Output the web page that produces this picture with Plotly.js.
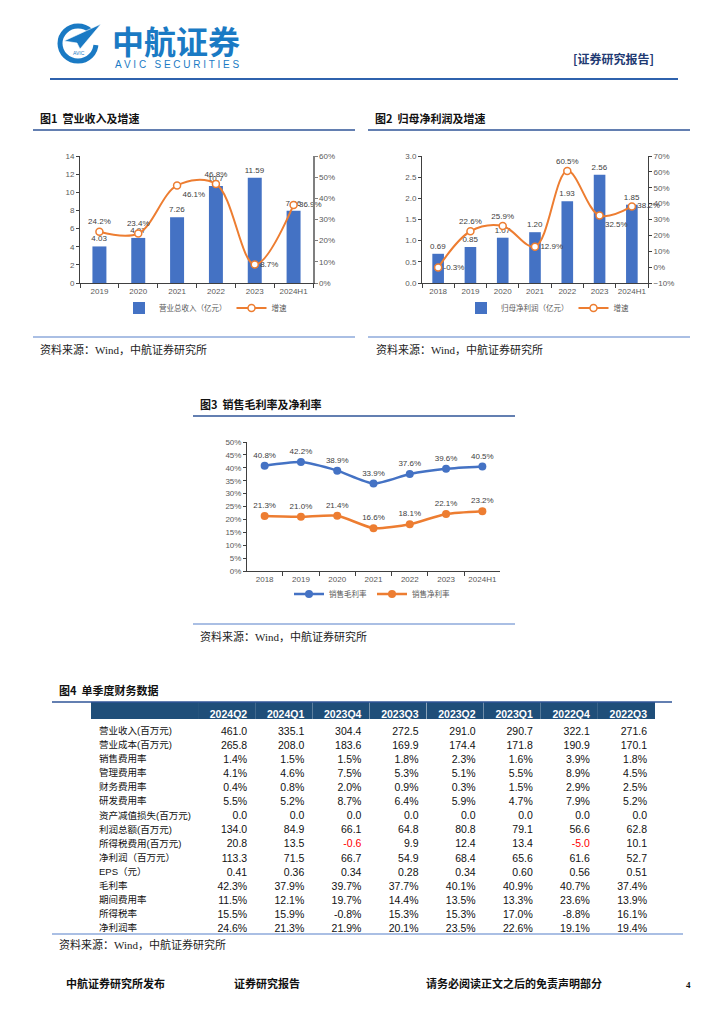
<!DOCTYPE html>
<html>
<head>
<meta charset="utf-8">
<script src="https://cdn.plot.ly/plotly-3.0.1.min.js"></script>
<style>html,body{margin:0;padding:0;background:#fff;}#page{width:724px;height:1024px;}</style>
</head>
<body>
<div id="page"></div>
<script>
// ---------- data ----------
const years1 = ['2019','2020','2021','2022','2023','2024H1'];
const revenue = [4.03, 4.97, 7.26, 10.7, 11.59, 7.96];
const revenueGrowth = [24.2, 23.4, 46.1, 46.8, 8.7, 36.9];

const years2 = ['2018','2019','2020','2021','2022','2023','2024H1'];
const netProfit = [0.69, 0.85, 1.07, 1.20, 1.93, 2.56, 1.85];
const netProfitGrowth = [-0.3, 22.6, 25.9, 12.9, 60.5, 32.5, 38.2];

const years3 = ['2018','2019','2020','2021','2022','2023','2024H1'];
const grossMargin = [40.8, 42.2, 38.9, 33.9, 37.6, 39.6, 40.5];
const netMargin = [21.3, 21.0, 21.4, 16.6, 18.1, 22.1, 23.2];

const quarters = ['2024Q2','2024Q1','2023Q4','2023Q3','2023Q2','2023Q1','2022Q4','2022Q3'];
const rowLabels = ['营业收入(百万元)','营业成本(百万元)','销售费用率','管理费用率','财务费用率','研发费用率','资产减值损失(百万元)','利润总额(百万元)','所得税费用(百万元)','净利润（百万元）','EPS（元）','毛利率','期间费用率','所得税率','净利润率'];
const qRevenue = [461.0, 335.1, 304.4, 272.5, 291.0, 290.7, 322.1, 271.6];
const qCost = [265.8, 208.0, 183.6, 169.9, 174.4, 171.8, 190.9, 170.1];
const qSellRate = [1.4, 1.5, 1.5, 1.8, 2.3, 1.6, 3.9, 1.8];
const qMgmtRate = [4.1, 4.6, 7.5, 5.3, 5.1, 5.5, 8.9, 4.5];
const qFinRate = [0.4, 0.8, 2.0, 0.9, 0.3, 1.5, 2.9, 2.5];
const qRdRate = [5.5, 5.2, 8.7, 6.4, 5.9, 4.7, 7.9, 5.2];
const qImpair = [0.0, 0.0, 0.0, 0.0, 0.0, 0.0, 0.0, 0.0];
const qTotalProfit = [134.0, 84.9, 66.1, 64.8, 80.8, 79.1, 56.6, 62.8];
const qTax = [20.8, 13.5, -0.6, 9.9, 12.4, 13.4, -5.0, 10.1];
const qNetProfit = [113.3, 71.5, 66.7, 54.9, 68.4, 65.6, 61.6, 52.7];
const qEps = [0.41, 0.36, 0.34, 0.28, 0.34, 0.60, 0.56, 0.51];
const qGrossMargin = [42.3, 37.9, 39.7, 37.7, 40.1, 40.9, 40.7, 37.4];
const qPeriodExp = [11.5, 12.1, 19.7, 14.4, 13.5, 13.3, 23.6, 13.9];
const qTaxRate = [15.5, 15.9, -0.8, 15.3, 15.3, 17.0, -8.8, 16.1];
const qNetMargin = [24.6, 21.3, 21.9, 20.1, 23.5, 22.6, 19.1, 19.4];

// ---------- helpers ----------
const W = 724, H = 1024;
const px = x => x / W;
const py = y => 1 - y / H;
const BLUE = '#4472c4', ORANGE = '#ed7d31';
const TICKF = {size: 8, color: '#595959', family: 'Liberation Sans, Arial, Noto Sans CJK SC'};
const CJK = 'Noto Sans CJK SC';

// table build
const tableRows = [
  [qRevenue, 1, ''], [qCost, 1, ''], [qSellRate, 1, '%'], [qMgmtRate, 1, '%'], [qFinRate, 1, '%'],
  [qRdRate, 1, '%'], [qImpair, 1, ''], [qTotalProfit, 1, ''], [qTax, 1, ''], [qNetProfit, 1, ''],
  [qEps, 2, ''], [qGrossMargin, 1, '%'], [qPeriodExp, 1, '%'], [qTaxRate, 1, '%'], [qNetMargin, 1, '%']
];
const redRow = 8;
const cellCols = [rowLabels];
const colorCols = [rowLabels.map(() => '#111')];
quarters.forEach((q, j) => {
  cellCols.push(tableRows.map(r => r[0][j].toFixed(r[1]) + r[2]));
  colorCols.push(tableRows.map((r, i) => (i === redRow && r[0][j] < 0) ? '#ff0000' : '#111'));
});

// ---------- traces ----------
const traces = [
  {type: 'bar', x: years1, y: revenue, xaxis: 'x', yaxis: 'y', name: '营业总收入（亿元）', legend: 'legend',
   marker: {color: BLUE}, texttemplate: '%{y}', textposition: 'outside', cliponaxis: false, constraintext: 'none',
   textfont: {size: 8, color: '#404040'}},
  {type: 'scatter', x: years1, y: revenueGrowth, xaxis: 'x', yaxis: 'y2', name: '增速', legend: 'legend',
   mode: 'lines+markers+text', line: {color: ORANGE, width: 2, shape: 'spline', smoothing: 1},
   marker: {symbol: 'circle', size: 7, color: '#fff', line: {color: ORANGE, width: 1.5}},
   texttemplate: '%{y:.1f}%', cliponaxis: false,
   textposition: ['top center','top center','bottom right','top center','middle right','middle right'],
   textfont: {size: 8, color: '#404040'}},

  {type: 'bar', x: years2, y: netProfit, xaxis: 'x2', yaxis: 'y3', name: '归母净利润（亿元）', legend: 'legend2',
   marker: {color: BLUE}, texttemplate: '%{y:.2f}', textposition: 'outside', cliponaxis: false, constraintext: 'none',
   textfont: {size: 8, color: '#404040'}},
  {type: 'scatter', x: years2, y: netProfitGrowth, xaxis: 'x2', yaxis: 'y4', name: '增速', legend: 'legend2',
   mode: 'lines+markers+text', line: {color: ORANGE, width: 2, shape: 'spline', smoothing: 1},
   marker: {symbol: 'circle', size: 7, color: '#fff', line: {color: ORANGE, width: 1.5}},
   texttemplate: '%{y:.1f}%', cliponaxis: false,
   textposition: ['middle right','top center','top center','middle right','top center','bottom right','middle right'],
   textfont: {size: 8, color: '#404040'}},

  {type: 'scatter', x: years3, y: grossMargin, xaxis: 'x3', yaxis: 'y5', name: '销售毛利率', legend: 'legend3',
   mode: 'lines+markers+text', line: {color: BLUE, width: 2.5, shape: 'spline', smoothing: 0.6},
   marker: {symbol: 'circle', size: 8, color: BLUE}, texttemplate: '%{y:.1f}%', textposition: 'top center',
   cliponaxis: false, textfont: {size: 8, color: '#404040'}},
  {type: 'scatter', x: years3, y: netMargin, xaxis: 'x3', yaxis: 'y5', name: '销售净利率', legend: 'legend3',
   mode: 'lines+markers+text', line: {color: ORANGE, width: 2.5, shape: 'spline', smoothing: 0.6},
   marker: {symbol: 'circle', size: 8, color: ORANGE}, texttemplate: '%{y:.1f}%', textposition: 'top center',
   cliponaxis: false, textfont: {size: 8, color: '#404040'}},

  {type: 'table', domain: {x: [px(91), px(655)], y: [py(950), py(702)]},
   columnwidth: [107].concat(quarters.map(() => 57.1)),
   header: {values: [''].concat(quarters), align: ['left'].concat(quarters.map(() => 'right')),
            fill: {color: '#1f4e79'}, line: {width: 0, color: '#1f4e79'}, height: 17,
            font: {color: '#fff', size: 10.5, family: 'Liberation Sans, Arial', weight: 'bold'}},
   cells: {values: cellCols, align: ['left'].concat(quarters.map(() => 'right')),
           fill: {color: 'rgba(0,0,0,0)'}, line: {width: 0, color: 'rgba(0,0,0,0)'}, height: 14.07,
           font: {color: colorCols, size: [9.5].concat(quarters.map(() => 10.5)),
                  family: 'Liberation Sans, Arial, Noto Sans CJK SC'}}}
];

// ---------- axes ----------
const xCommon = {type: 'category', showline: true, linecolor: '#404040', linewidth: 1, ticks: 'outside',
  tickson: 'boundaries', ticklen: 4, tickcolor: '#404040', showgrid: false, zeroline: false, tickfont: TICKF,
  tickangle: 0, fixedrange: true};
const yCommon = {showline: true, linecolor: '#404040', linewidth: 1, ticks: 'outside', ticklen: 3,
  tickcolor: '#404040', showgrid: false, zeroline: false, tickfont: TICKF, fixedrange: true};
const LEGF = {size: 7.5, color: '#595959', family: 'Noto Sans CJK SC'};

const layout = {
  width: W, height: H, margin: {l: 0, r: 0, t: 0, b: 0}, paper_bgcolor: '#fff', plot_bgcolor: '#fff',
  font: {family: 'Liberation Sans, Arial, Noto Sans CJK SC', color: '#222'},
  showlegend: true,
  xaxis: Object.assign({}, xCommon, {domain: [px(80), px(313)], anchor: 'y'}),
  yaxis: Object.assign({}, yCommon, {domain: [py(283), py(156)], range: [0, 14], dtick: 2, anchor: 'x'}),
  yaxis2: Object.assign({}, yCommon, {overlaying: 'y', side: 'right', anchor: 'x', range: [0, 60], dtick: 10,
    ticksuffix: '%', linecolor: '#7f7f7f', linewidth: 1.5, tickcolor: '#7f7f7f'}),
  xaxis2: Object.assign({}, xCommon, {domain: [px(422), px(648)], anchor: 'y3'}),
  yaxis3: Object.assign({}, yCommon, {domain: [py(283), py(156)], range: [0, 3], dtick: 0.5, tickformat: '.1f', anchor: 'x2'}),
  yaxis4: Object.assign({}, yCommon, {overlaying: 'y3', side: 'right', anchor: 'x2', range: [-10, 70], dtick: 10,
    ticksuffix: '%'}),
  xaxis3: Object.assign({}, xCommon, {domain: [px(247), px(500)], anchor: 'y5'}),
  yaxis5: Object.assign({}, yCommon, {domain: [py(571), py(442)], range: [0, 50], dtick: 5, ticksuffix: '%', anchor: 'x3'}),
  bargap: 0.64,
  legend: {orientation: 'h', x: px(119), y: py(308), xanchor: 'left', yanchor: 'middle', font: LEGF,
    bgcolor: 'rgba(0,0,0,0)', itemwidth: 30, traceorder: 'normal'},
  legend2: {orientation: 'h', x: px(461), y: py(308), xanchor: 'left', yanchor: 'middle', font: LEGF,
    bgcolor: 'rgba(0,0,0,0)', itemwidth: 30, traceorder: 'normal'},
  legend3: {orientation: 'h', x: px(289), y: py(594), xanchor: 'left', yanchor: 'middle', font: LEGF,
    bgcolor: 'rgba(0,0,0,0)', itemwidth: 30, traceorder: 'normal'},
  shapes: [],
  annotations: []
};

function line(x0, x1, y, color, w) {
  layout.shapes.push({type: 'line', xref: 'paper', yref: 'paper', x0: px(x0), x1: px(x1), y0: py(y), y1: py(y),
    line: {color: color, width: w}});
}
function txt(text, x, y, size, opts) {
  layout.annotations.push(Object.assign({text: text, xref: 'paper', yref: 'paper', x: px(x), y: py(y),
    xanchor: 'left', yanchor: 'middle', showarrow: false, font: {size: size, color: '#111', family: CJK}}, opts || {}));
}

// header
line(50, 678, 79, '#2f62ad', 2);
layout.shapes.push({type: 'circle', xref: 'paper', yref: 'paper', x0: px(60), x1: px(96), y0: py(61), y1: py(26),
  line: {color: '#1a7ac4', width: 5}});
layout.shapes.push({type: 'path', xref: 'paper', yref: 'paper',
  path: `M ${px(78)},${py(43)} L ${px(104)},${py(20)} L ${px(104)},${py(46)} Z`, fillcolor: '#fff', line: {width: 0}});
layout.shapes.push({type: 'path', xref: 'paper', yref: 'paper',
  path: `M ${px(64)},${py(41)} L ${px(101)},${py(24)} L ${px(80)},${py(49)} L ${px(77)},${py(43)} Z`,
  fillcolor: '#1a7ac4', line: {color: '#fff', width: 0.6}});
txt('AVIC', 71, 53, 5, {font: {size: 5, color: '#1a7ac4', family: 'Liberation Sans'}});
txt('<b>中航证券</b>', 110, 40, 32, {font: {size: 32, color: '#1a7ac4', family: CJK}});
txt('A V I C   S E C U R I T I E S', 113, 64, 10, {font: {size: 10, color: '#1a7ac4', family: 'Liberation Sans'}});
txt('<b>[证券研究报告]</b>', 571, 58, 12, {font: {size: 12, color: '#1f3b73', family: CJK}});

// chart 1 frame
txt('<b>图1  营业收入及增速</b>', 38, 118, 11);
line(33, 355, 130, '#2f5597', 1.5);
line(33, 355, 337, '#8eaadb', 1.5);
txt('资料来源：Wind，中航证券研究所', 38, 349, 11, {font: {size: 11, color: '#222', family: 'Liberation Serif, Noto Sans CJK SC'}});

// chart 2 frame
txt('<b>图2  归母净利润及增速</b>', 373, 118, 11);
line(368, 690, 130, '#2f5597', 1.5);
line(368, 690, 337, '#8eaadb', 1.5);
txt('资料来源：Wind，中航证券研究所', 374, 349, 11, {font: {size: 11, color: '#222', family: 'Liberation Serif, Noto Sans CJK SC'}});

// chart 3 frame
txt('<b>图3  销售毛利率及净利率</b>', 198, 404, 11);
line(193, 515, 416, '#2f5597', 1.5);
line(193, 515, 624, '#8eaadb', 1.5);
txt('资料来源：Wind，中航证券研究所', 198, 636, 11, {font: {size: 11, color: '#222', family: 'Liberation Serif, Noto Sans CJK SC'}});

// table frame
txt('<b>图4  单季度财务数据</b>', 57, 690, 11);
line(52, 672, 702, '#2f5597', 1.5);
line(52, 683, 934, '#8eaadb', 1.5);
txt('资料来源：Wind，中航证券研究所', 57, 944, 11, {font: {size: 11, color: '#222', family: 'Liberation Serif, Noto Sans CJK SC'}});

// footer
txt('<b>中航证券研究所发布</b>', 64, 983, 11);
txt('<b>证券研究报告</b>', 232, 983, 11);
txt('<b>请务必阅读正文之后的免责声明部分</b>', 424, 983, 11);
txt('<b>4</b>', 684, 985, 9, {font: {size: 9, color: '#111', family: 'Liberation Serif'}});

Plotly.newPlot('page', traces, layout, {displayModeBar: false, staticPlot: true});
</script>
</body>
</html>
